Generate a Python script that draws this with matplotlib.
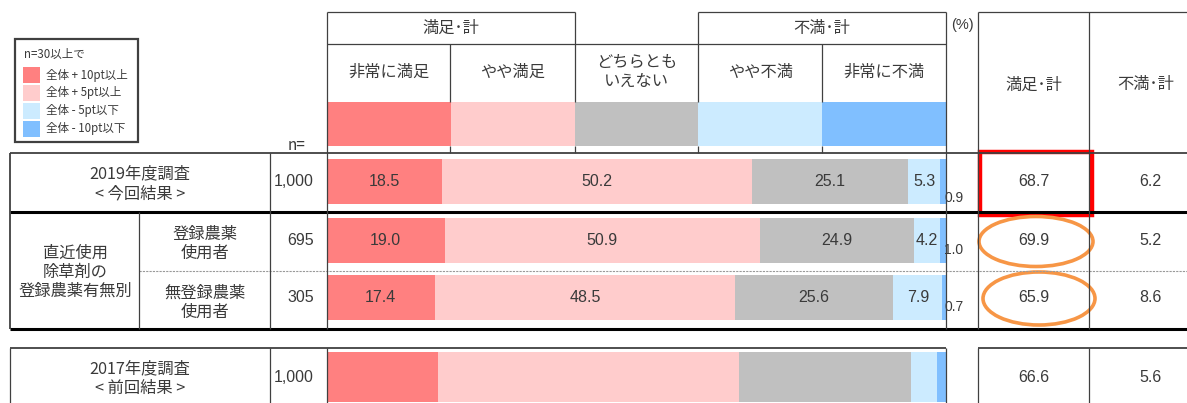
import matplotlib
matplotlib.use("Agg")
import matplotlib.pyplot as plt
from matplotlib.patches import Rectangle, Ellipse
import numpy as np

plt.rcParams['font.family'] = ['Noto Sans CJK JP', 'DejaVu Sans']

# ---- data ----
categories = ["非常に満足", "やや満足", "どちらとも\nいえない", "やや不満", "非常に不満"]
seg_colors = ["#FF8080", "#FFCCCC", "#C0C0C0", "#CCEBFF", "#80BFFF"]
n_labels = ["1,000", "695", "305", "1,000"]
very_sat = [18.5, 19.0, 17.4, 18.0]
some_sat = [50.2, 50.9, 48.5, 48.6]
neutral = [25.1, 24.9, 25.6, 27.8]
some_dis = [5.3, 4.2, 7.9, 4.2]
very_dis = [0.9, 1.0, 0.7, 1.4]
sat_total = [68.7, 69.9, 65.9, 66.6]
dis_total = [6.2, 5.2, 8.6, 5.6]
show_values = [True, True, True, False]
legend_title = "n=30以上で"
legend_labels = ["全体 + 10pt以上", "全体 + 5pt以上", "全体 - 5pt以下", "全体 - 10pt以下"]
legend_colors = ["#FF8080", "#FFCCCC", "#CCEBFF", "#80BFFF"]

# ---- layout (pixels) ----
W, H = 1187, 403
BAR_L, BAR_R = 327, 946
RT_L, RT_M, RT_R = 978, 1089, 1200
row_center = [181.0, 240.5, 297.5, 377.0]
row_height = [45, 45, 45, 50]
small_off = [6, 13, 13, 13]
TXT = "#3a3a3a"
NUMFONT = ["Liberation Sans", "DejaVu Sans"]
JP = 11.7

fig = plt.figure(figsize=(W / 100, H / 100), dpi=100)

# bar axes: x in percent, y in pixels
bax = fig.add_axes([BAR_L / W, 0, (BAR_R - BAR_L) / W, 1])
bax.set_xlim(0, 100)
bax.set_ylim(H, 0)
bax.axis('off')

series = [very_sat, some_sat, neutral, some_dis, very_dis]
left = np.zeros(len(n_labels))
for k, (vals, col) in enumerate(zip(series, seg_colors)):
    vals = np.asarray(vals, dtype=float)
    bax.barh(row_center, vals, left=left, height=row_height, color=col,
             linewidth=0)
    for i, v in enumerate(vals):
        if not show_values[i]:
            continue
        if k == 4:
            bax.text(99.7, row_center[i] + row_height[i] / 2 - small_off[i],
                     f"{v:.1f}", ha='left', va='center', fontsize=10,
                     color=TXT, family=NUMFONT, clip_on=False)
        else:
            bax.text(left[i] + v / 2, row_center[i], f"{v:.1f}", ha='center',
                     va='center', fontsize=11.5, color=TXT, family=NUMFONT)
    left += vals

# header swatches and category labels
for k, (cat, col) in enumerate(zip(categories, seg_colors)):
    bax.add_patch(Rectangle((k * 20, 102), 20, 44, color=col, linewidth=0))
    bax.text(k * 20 + 10, 72, cat, ha='center', va='center', fontsize=JP,
             color=TXT, linespacing=1.2)

# overlay axes in pixel coordinates for the table grid and labels
ax = fig.add_axes([0, 0, 1, 1])
ax.set_xlim(0, W)
ax.set_ylim(H, 0)
ax.axis('off')
ax.patch.set_alpha(0)


def hline(y, x0, x1, lw=0.9, color="#404040", **kw):
    ax.plot([x0, x1], [y, y], color=color, lw=lw, solid_capstyle='butt', **kw)


def vline(x, y0, y1, lw=0.9, color="#404040", **kw):
    ax.plot([x, x], [y0, y1], color=color, lw=lw, solid_capstyle='butt', **kw)


# header boxes
hline(12, BAR_L, 575)
hline(12, 698, BAR_R)
hline(44, BAR_L, BAR_R)
for x in (575, 698):
    vline(x, 12, 44)
for x in (450, 575, 698, 822):
    vline(x, 44, 102)
    vline(x, 146, 153)
ax.text((BAR_L + 575) / 2, 28, "満足･計", ha='center', va='center', fontsize=JP, color=TXT)
ax.text((698 + BAR_R) / 2, 28, "不満･計", ha='center', va='center', fontsize=JP, color=TXT)
ax.text(962, 25, "(%)", ha='center', va='center', fontsize=10.5, color=TXT, family=NUMFONT)

# right summary table header
hline(12, RT_L, RT_R)
ax.text((RT_L + RT_M) / 2, 85, "満足･計", ha='center', va='center', fontsize=JP, color=TXT)
ax.text((RT_M + 1203) / 2, 85, "不満･計", ha='center', va='center', fontsize=JP, color=TXT)

# main grid
hline(153, 10, RT_R, lw=1.3)
hline(212, 10, RT_R, lw=2.2, color="black")
hline(271, 139, RT_R, lw=0.8, color="#999999", linestyle=(0, (2, 1)))
hline(329, 10, RT_R, lw=2.2, color="black")
vline(10, 153, 329, lw=1.3)
vline(139, 212, 329)
vline(270, 153, 329)
vline(BAR_L, 12, 329)
vline(BAR_R, 12, 329)
vline(RT_L, 12, 329)
vline(RT_M, 12, 329)

# previous survey block
hline(348, 10, BAR_R, lw=1.3)
hline(348, RT_L, RT_R, lw=1.3)
for x in (10, 270, BAR_L, BAR_R, RT_L, RT_M):
    vline(x, 348, H + 5)

ax.text(297, 145, "n=", ha='center', va='center', fontsize=11, color=TXT)

# row labels
ax.text(140, 184, "2019年度調査\n< 今回結果 >", ha='center', va='center',
        fontsize=JP, color=TXT, linespacing=1.25)
ax.text(75, 272, "直近使用\n除草剤の\n登録農薬有無別", ha='center', va='center',
        fontsize=JP, color=TXT, linespacing=1.15)
ax.text(205, 243.5, "登録農薬\n使用者", ha='center', va='center',
        fontsize=JP, color=TXT, linespacing=1.15)
ax.text(205, 302.5, "無登録農薬\n使用者", ha='center', va='center',
        fontsize=JP, color=TXT, linespacing=1.15)
ax.text(140, 378.5, "2017年度調査\n< 前回結果 >", ha='center', va='center',
        fontsize=JP, color=TXT, linespacing=1.25)

# n column and summary values
for i, yc in enumerate(row_center):
    ax.text(314, yc, n_labels[i], ha='right', va='center', fontsize=11.5,
            color=TXT, family=NUMFONT)
    ax.text((RT_L + RT_M) / 2, yc, f"{sat_total[i]:.1f}", ha='center',
            va='center', fontsize=11.5, color=TXT, family=NUMFONT)
    ax.text(1150, yc, f"{dis_total[i]:.1f}", ha='center', va='center',
            fontsize=11.5, color=TXT, family=NUMFONT)

# highlights
ax.add_patch(Rectangle((980, 152), 112, 63, fill=False, edgecolor="#FF0000", lw=3.2))
ax.add_patch(Ellipse((1036, 241.5), 114, 50, fill=False, edgecolor="#F79646", lw=2.6))
ax.add_patch(Ellipse((1039, 298.5), 112, 53, fill=False, edgecolor="#F79646", lw=2.6))

# legend box
ax.add_patch(Rectangle((15, 39), 123, 103, fill=False, edgecolor="#404040", lw=1.6))
ax.text(24, 54, legend_title, ha='left', va='center', fontsize=8.3, color=TXT)
leg_y = [75, 92.5, 110.5, 128.5]
for y, lab, col in zip(leg_y, legend_labels, legend_colors):
    ax.add_patch(Rectangle((23, y - 8), 17, 16, color=col, linewidth=0))
    ax.text(46, y, lab, ha='left', va='center', fontsize=8.3, color=TXT)

fig.savefig("out.png", dpi=100)
